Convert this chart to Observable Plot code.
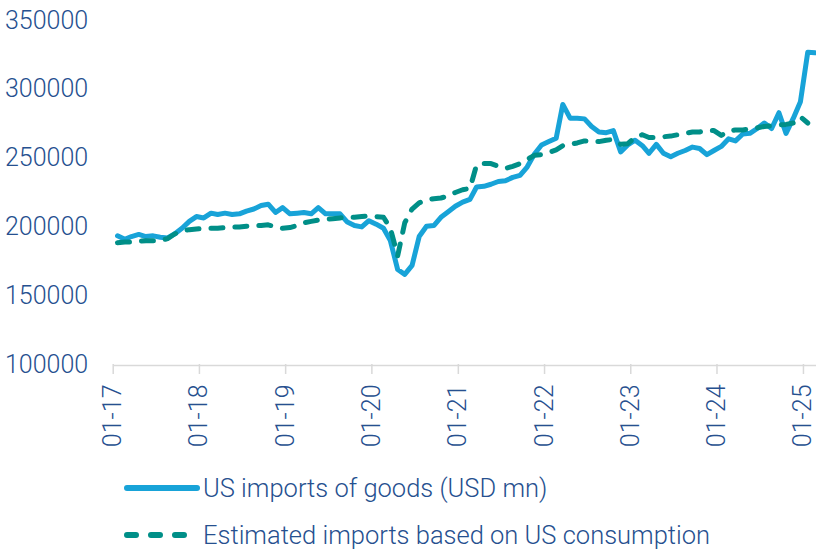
<!DOCTYPE html>
<html>
<head>
<meta charset="utf-8">
<script src="https://cdn.jsdelivr.net/npm/d3@7"></script>
<script src="https://cdn.jsdelivr.net/npm/@observablehq/plot@0.6"></script>
<style>
  html, body { margin: 0; padding: 0; background: #fff; }
  #wrap { position: relative; width: 816px; height: 549px; overflow: hidden; font-family: Roboto, "Open Sans", sans-serif; }
  #wrap svg.plot { position: absolute; left: 0; top: 0; }
  .leg { position: absolute; left: 124px; display: flex; align-items: center; height: 26px; line-height: 26px; color: #26508f; font-size: 25.5px; font-weight: 300; white-space: nowrap; }
  .leg svg { margin-right: 3px; }
</style>
</head>
<body>
<div id="wrap"></div>
<script>
// Monthly series, first month = January 2017
const startYear = 2017;
const seriesNames = ["US imports of goods (USD mn)", "Estimated imports based on US consumption"];
const importsGoods = [
  193500, 191000, 193000, 194500, 193000, 193500, 192500, 192000, 195000, 199000, 204000, 207500,
  206500, 210000, 209000, 210000, 209000, 209500, 211500, 213000, 215500, 216500, 210500, 214000,
  209500, 210000, 210500, 209500, 214000, 209500, 209500, 209500, 203500, 201000, 200000, 204500,
  202000, 199000, 190000, 169000, 165500, 172000, 193000, 200500, 201000, 207000, 211000, 215000,
  218000, 220000, 229000, 229500, 231000, 233000, 233500, 236000, 237500, 243500, 253000, 259500,
  262000, 264500, 289000, 279000, 279000, 278500, 273000, 269000, 268500, 270000, 254500, 259500,
  263000, 259000, 253500, 260000, 253500, 251000, 253500, 255500, 258000, 257000, 252500, 255500,
  258500, 264000, 262500, 267500, 268000, 271500, 275500, 271500, 283000, 268000, 279000, 291000,
  327000, 326500
];
const estimatedImports = [
  188500, 189000, 189000, 189500, 190000, 190000, 190000, 191500, 195000, 197000, 198000, 198500,
  199000, 199000, 199000, 199500, 200000, 200000, 200500, 201000, 201000, 201500, 200000, 199000,
  199500, 201000, 203000, 204000, 205000, 205500, 206000, 206500, 207000, 207000, 207500, 208000,
  207500, 207000, 199000, 179000, 203000, 213000, 217500, 219500, 220500, 221000, 222500, 225000,
  227000, 228000, 245000, 246000, 246000, 244000, 242500, 244000, 246000, 249000, 252000, 252500,
  254000, 256000, 259000, 260000, 261000, 262500, 262000, 262000, 263000, 263500, 260000, 260500,
  265000, 267000, 265000, 265000, 265500, 266000, 267000, 268000, 269000, 269000, 270000, 270000,
  266500, 269500, 270500, 270500, 271000, 272000, 273000, 273500, 274000, 274500, 275500, 280000,
  275500
];
const yTickValues = [100000, 150000, 200000, 250000, 300000, 350000];
const xTickYears = [2017, 2018, 2019, 2020, 2021, 2022, 2023, 2024, 2025];

const textColor = "#26508f";
const solidColor = "#18a3d8";
const dashColor = "#008f88";
const axisGray = "#d9d9d9";

const monthDate = i => new Date(Date.UTC(startYear, i, 15));
const rowsA = importsGoods.map((v, i) => ({date: monthDate(i), value: v}));
const rowsB = estimatedImports.map((v, i) => ({date: monthDate(i), value: v}));
const xTicks = xTickYears.map(y => new Date(Date.UTC(y, 0, 1)));

const chart = Plot.plot({
  width: 816,
  height: 460,
  marginLeft: 113.7,
  marginRight: 0,
  marginTop: 20,
  marginBottom: 96,
  style: {fontFamily: "Roboto, 'Open Sans', sans-serif", fontSize: "25px", fontWeight: 300, color: textColor, background: "transparent", overflow: "visible"},
  x: {type: "utc", domain: [new Date(Date.UTC(2017, 0, 1)), new Date(Date.UTC(2025, 1, 21))]},
  y: {domain: [100000, 350000]},
  marks: [
    Plot.axisY({ticks: yTickValues, tickSize: 0, tickPadding: 26, tickFormat: d => String(d), label: null, fill: textColor}),
    Plot.ruleY([100000], {stroke: axisGray, strokeWidth: 1.5, dy: 1}),
    Plot.axisX({ticks: xTicks, tickSize: 10, tickPadding: 10, tickRotate: -90, tickFormat: d3.utcFormat("%m-%y"), label: null, stroke: axisGray, strokeWidth: 1.5, fill: textColor, dx: -1}),
    Plot.line(rowsA, {x: "date", y: "value", stroke: solidColor, strokeWidth: 5, strokeLinejoin: "round", strokeLinecap: "round"}),
    Plot.line(rowsB, {x: "date", y: "value", stroke: dashColor, strokeWidth: 5, strokeDasharray: "12,12", strokeLinecap: "round", strokeLinejoin: "round"})
  ]
});
const wrap = document.getElementById("wrap");
wrap.appendChild(chart);

function legendRow(top, name, dashed) {
  const row = document.createElement("div");
  row.className = "leg";
  row.style.top = top + "px";
  const ns = "http://www.w3.org/2000/svg";
  const s = document.createElementNS(ns, "svg");
  s.setAttribute("width", "76"); s.setAttribute("height", "12");
  const ln = document.createElementNS(ns, "line");
  ln.setAttribute("x1", "3"); ln.setAttribute("x2", dashed ? "70" : "73");
  ln.setAttribute("y1", "6"); ln.setAttribute("y2", "6");
  ln.setAttribute("stroke", dashed ? dashColor : solidColor);
  ln.setAttribute("stroke-width", "6");
  ln.setAttribute("stroke-linecap", "round");
  if (dashed) ln.setAttribute("stroke-dasharray", "9,15");
  s.appendChild(ln);
  row.appendChild(s);
  const t = document.createElement("span");
  t.textContent = name;
  row.appendChild(t);
  wrap.appendChild(row);
}
legendRow(475, seriesNames[0], false);
legendRow(522, seriesNames[1], true);
</script>
</body>
</html>
